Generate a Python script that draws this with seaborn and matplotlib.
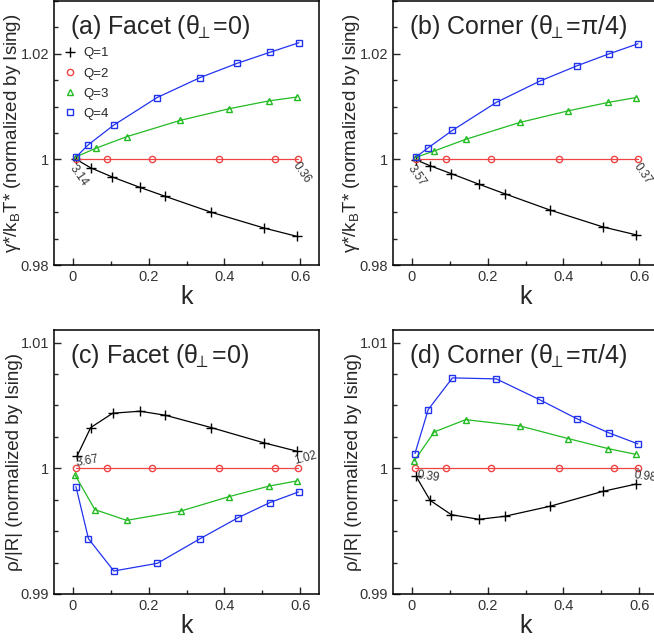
import pandas as pd
import matplotlib
matplotlib.use("Agg")
import matplotlib.pyplot as plt
import seaborn as sns
from matplotlib.lines import Line2D
from matplotlib.ticker import MultipleLocator, FuncFormatter

# -----------------------------
# Data
# -----------------------------
# panel (a) Facet, gamma
a_k1 = [0.009, 0.047, 0.103, 0.177, 0.244, 0.365, 0.505, 0.593]
a_v1 = [1.0, 0.9984, 0.9967, 0.9947, 0.9930, 0.9900, 0.9870, 0.9854]
a_k2 = [0.009, 0.089, 0.208, 0.385, 0.533, 0.595]
a_v2 = [1.0, 1.0, 1.0, 1.0, 1.0, 1.0]
a_k3 = [0.009, 0.060, 0.142, 0.284, 0.413, 0.519, 0.591]
a_v3 = [1.0005, 1.0021, 1.0043, 1.0074, 1.0096, 1.0111, 1.0118]
a_k4 = [0.009, 0.041, 0.108, 0.222, 0.336, 0.434, 0.521, 0.597]
a_v4 = [1.0005, 1.0028, 1.0065, 1.0117, 1.0155, 1.0182, 1.0203, 1.0221]

# panel (b) Corner, gamma
b_k1 = [0.011, 0.048, 0.104, 0.177, 0.245, 0.365, 0.505, 0.593]
b_v1 = [0.9999, 0.9988, 0.9973, 0.9953, 0.9935, 0.9904, 0.9872, 0.9857]
b_k2 = [0.011, 0.090, 0.208, 0.388, 0.534, 0.596]
b_v2 = [1.0, 1.0, 1.0, 1.0, 1.0, 1.0]
b_k3 = [0.011, 0.059, 0.142, 0.285, 0.413, 0.519, 0.591]
b_v3 = [1.0004, 1.0016, 1.0038, 1.0070, 1.0092, 1.0108, 1.0117]
b_k4 = [0.010, 0.043, 0.107, 0.223, 0.337, 0.435, 0.521, 0.597]
b_v4 = [1.0004, 1.0022, 1.0055, 1.0108, 1.0148, 1.0177, 1.0200, 1.0219]

# panel (c) Facet, rho
c_k1 = [0.011, 0.047, 0.105, 0.177, 0.244, 0.365, 0.505, 0.593]
c_v1 = [1.00098, 1.00324, 1.00438, 1.00454, 1.00422, 1.00324, 1.00202, 1.00135]
c_k2 = [0.008, 0.089, 0.208, 0.385, 0.533, 0.595]
c_v2 = [1.0, 1.0, 1.0, 1.0, 1.0, 1.0]
c_k3 = [0.006, 0.058, 0.142, 0.285, 0.413, 0.519, 0.591]
c_v3 = [0.99944, 0.99671, 0.99586, 0.99660, 0.99775, 0.99859, 0.99899]
c_k4 = [0.008, 0.041, 0.108, 0.223, 0.336, 0.435, 0.520, 0.596]
c_v4 = [0.99854, 0.99440, 0.99183, 0.99244, 0.99440, 0.99605, 0.99727, 0.99812]

# panel (d) Corner, rho
d_k1 = [0.011, 0.048, 0.104, 0.177, 0.245, 0.365, 0.505, 0.593]
d_v1 = [0.99936, 0.99745, 0.99631, 0.99594, 0.99618, 0.99698, 0.99817, 0.99875]
d_k2 = [0.008, 0.090, 0.208, 0.388, 0.534, 0.596]
d_v2 = [1.0, 1.0, 1.0, 1.0, 1.0, 1.0]
d_k3 = [0.006, 0.059, 0.142, 0.285, 0.413, 0.519, 0.591]
d_v3 = [1.00058, 1.00289, 1.00387, 1.00337, 1.00236, 1.00156, 1.00111]
d_k4 = [0.008, 0.043, 0.107, 0.223, 0.337, 0.435, 0.521, 0.597]
d_v4 = [1.00117, 1.00467, 1.00719, 1.00711, 1.00546, 1.00395, 1.00281, 1.00194]

labels_q = ["Q=1", "Q=2", "Q=3", "Q=4"]
titles = [r"(a) Facet ($\theta_{\!\!\perp}$=0)", r"(b) Corner ($\theta_{\!\!\perp}$=$\pi$/4)",
          r"(c) Facet ($\theta_{\!\!\perp}$=0)", r"(d) Corner ($\theta_{\!\!\perp}$=$\pi$/4)"]
end_labels = [("3.14", "0.36"), ("3.57", "0.37"), ("3.67", "1.02"), ("0.39", "0.98")]

# -----------------------------
# Style
# -----------------------------
sns.set_style("ticks")
plt.rcParams["font.family"] = ["Liberation Sans", "DejaVu Sans"]
plt.rcParams["mathtext.fontset"] = "custom"
plt.rcParams["mathtext.rm"] = "Liberation Sans"
plt.rcParams["mathtext.it"] = "Liberation Sans"
plt.rcParams["axes.edgecolor"] = "black"
plt.rcParams["axes.linewidth"] = 1.1

colors = ["black", "#ee4444", "#22bb22", "#2233ee"]
markers = ["+", "o", "^", "s"]
msizes = [7, 4.5, 5, 4.5]

fig = plt.figure(figsize=(6.54, 6.42), dpi=100)
W, H = 654, 642
pos = [(54, 1), (393, 1), (54, 330), (393, 330)]  # left, top in px
axes = [fig.add_axes([x / W, 1 - (y + 264) / H, 265 / W, 264 / H]) for x, y in pos]

panels = [
    [(a_k1, a_v1), (a_k2, a_v2), (a_k3, a_v3), (a_k4, a_v4)],
    [(b_k1, b_v1), (b_k2, b_v2), (b_k3, b_v3), (b_k4, b_v4)],
    [(c_k1, c_v1), (c_k2, c_v2), (c_k3, c_v3), (c_k4, c_v4)],
    [(d_k1, d_v1), (d_k2, d_v2), (d_k3, d_v3), (d_k4, d_v4)],
]

# annotation spots (data coords) and rotations
ann = [
    [(0.014, 0.99685, -55), (0.605, 0.9974, -55)],
    [(0.011, 0.9970, -55), (0.610, 0.9972, -55)],
    [(0.038, 1.0006, 10), (0.613, 1.00077, 15)],
    [(0.042, 0.99934, -8), (0.615, 0.99934, -8)],
]

for i, ax in enumerate(axes):
    for j, (kk, vv) in enumerate(panels[i]):
        df = pd.DataFrame({"k": kk, "v": vv})
        sns.lineplot(data=df, x="k", y="v", ax=ax, color=colors[j], lw=0.9,
                     marker=markers[j], ms=msizes[j], mfc="none", mec=colors[j],
                     mew=1.0, sort=False, estimator=None)
    ax.set_xlim(-0.05, 0.65)
    if i < 2:
        ax.set_ylim(0.98, 1.03)
        ax.yaxis.set_major_locator(MultipleLocator(0.02))
        ax.yaxis.set_minor_locator(MultipleLocator(0.005))
        ax.set_ylabel(r"γ*/k$_\mathregular{B}$T* (normalized by Ising)", fontsize=13.5)
    else:
        ax.set_ylim(0.99, 1.011)
        ax.yaxis.set_major_locator(MultipleLocator(0.01))
        ax.yaxis.set_minor_locator(MultipleLocator(0.0025))
        ax.set_ylabel("ρ/|R| (normalized by Ising)", fontsize=13.5)
    ax.yaxis.set_label_coords(-0.118, 0.5)
    ax.xaxis.set_major_locator(MultipleLocator(0.2))
    ax.xaxis.set_minor_locator(MultipleLocator(0.1))
    ax.yaxis.set_major_formatter(FuncFormatter(lambda v, p: f"{v:g}"))
    ax.xaxis.set_major_formatter(FuncFormatter(lambda v, p: f"{v:g}"))
    ax.tick_params(which="both", direction="in", labelsize=10.5, labelcolor="#333333")
    ax.tick_params(which="major", length=5, width=1)
    ax.tick_params(which="minor", length=3, width=1)
    ax.set_xlabel("k", fontsize=18, labelpad=1)
    ax.text(0.06, 0.875, titles[i], transform=ax.transAxes, fontsize=18, va="baseline")
    for (tx, ty, rot), s in zip(ann[i], end_labels[i]):
        ax.text(tx, ty, s, fontsize=8.5, color="#333333", rotation=rot,
                ha="center", va="center")

handles = [Line2D([], [], ls="none", marker=markers[j], ms=msizes[j], mfc="none",
                  mec=colors[j], mew=1.0) for j in range(4)]
axes[0].legend(handles, labels_q, loc="upper left", bbox_to_anchor=(0.0, 0.86),
               frameon=False, fontsize=9.5, handlelength=1.0, handletextpad=0.5,
               labelspacing=0.6, borderaxespad=0.3)

fig.savefig("out.png", dpi=100)
